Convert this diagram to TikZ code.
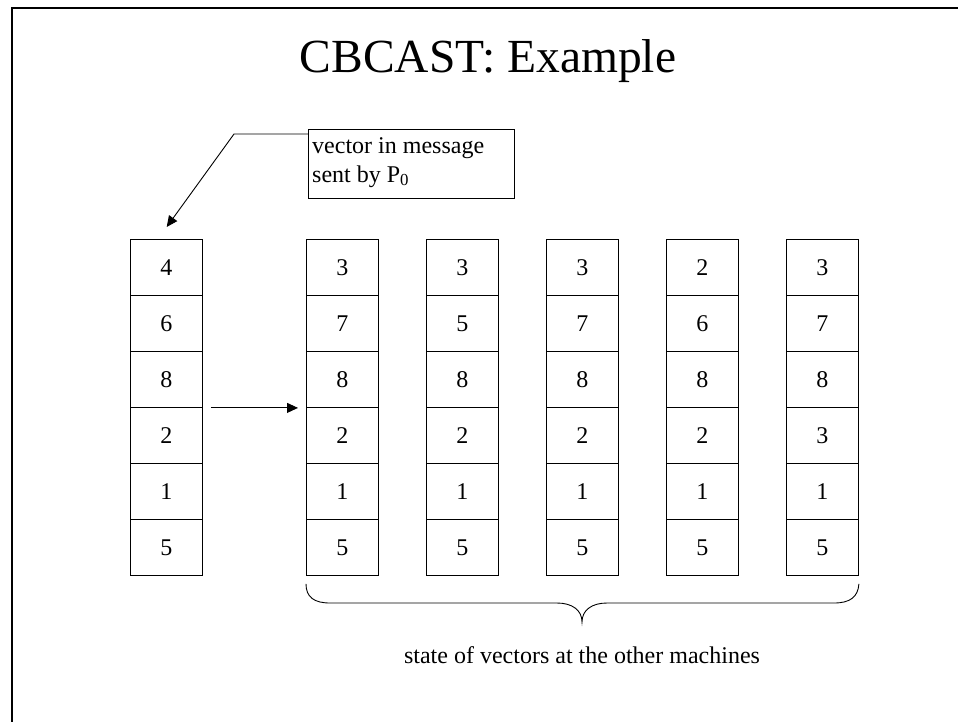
\documentclass[tikz,border=0pt]{standalone}
\usepackage{fontspec}
\setmainfont{Liberation Serif}
\usetikzlibrary{arrows.meta,calc}

\tikzset{
  cell/.style={draw, line width=0.9pt, minimum width=72pt, minimum height=56pt,
    inner sep=0pt, anchor=north west, font=\fontsize{24}{28}\selectfont},
  lead/.style={line width=0.9pt, -{Triangle[length=11pt,width=10pt]}},
  frameline/.style={line width=2pt},
  bracecurve/.style={line width=0.9pt},
  plain/.style={inner sep=0pt, font=\fontsize{24}{28}\selectfont},
}

\begin{document}
\begin{tikzpicture}[x=1pt,y=-1pt]
  \useasboundingbox (0,0) rectangle (958,721);
  \clip (0,0) rectangle (958,721);

  % slide frame (runs off the right and bottom edges)
  \draw[frameline] (980,8.3) -- (11.5,8.3) -- (11.5,740);

  % title
  \node[anchor=base, font=\fontsize{47.5}{52}\selectfont, inner sep=0pt] (title) at (488,72) {CBCAST: Example};

  % vector carried by the message
  \foreach \v [count=\r from 0] in {4,6,8,2,1,5}
    \node[cell] (m\r) at (130,239+56*\r) {\v};

  % vectors held by the other machines
  \foreach \col/\vals [count=\c from 1] in {306/{3,7,8,2,1,5}, 426/{3,5,8,2,1,5},
      546/{3,7,8,2,1,5}, 666/{2,6,8,2,1,5}, 786/{3,7,8,3,1,5}}
    \foreach \v [count=\r from 0] in \vals
      \node[cell] (c\c r\r) at (\col,239+56*\r) {\v};

  % message delivery arrow
  \draw[lead, shorten <=8pt, shorten >=8pt] (m2.south east) -- (c1r2.south west);

  % callout box, its two text lines and its leader
  \node[draw, line width=0.9pt, anchor=north west, minimum width=206pt, minimum height=69pt,
    inner sep=0pt] (note) at (308,129) {};
  \node[plain, anchor=base west] (noteA) at (312,153) {vector in message};
  \node[plain, anchor=base west] (noteB) at (312,182) {sent by P\textsubscript{0}};
  \coordinate (bend) at (234,134);
  \coordinate (tip) at (166.7,227);
  \draw[lead] ($(note.north west)+(0,5)$) -- (bend) -- (tip);

  % brace under the other machines
  \coordinate (bl) at ($(c1r5.south west)+(0,8)$);
  \coordinate (br) at ($(c5r5.south east)+(0,8)$);
  \coordinate (cusp) at (582,622);
  \draw[bracecurve] (bl) .. controls (306,597) and (314,603) .. (330,603)
    -- (557,603) .. controls (572,603) and (582,610) .. (cusp)
    .. controls (582,610) and (592,603) .. (607,603)
    -- (834,603) .. controls (850,603) and (858,597) .. (br);

  \node[plain, anchor=base] (caption) at (582,663)
    {state of vectors at the other machines};
\end{tikzpicture}
\end{document}
